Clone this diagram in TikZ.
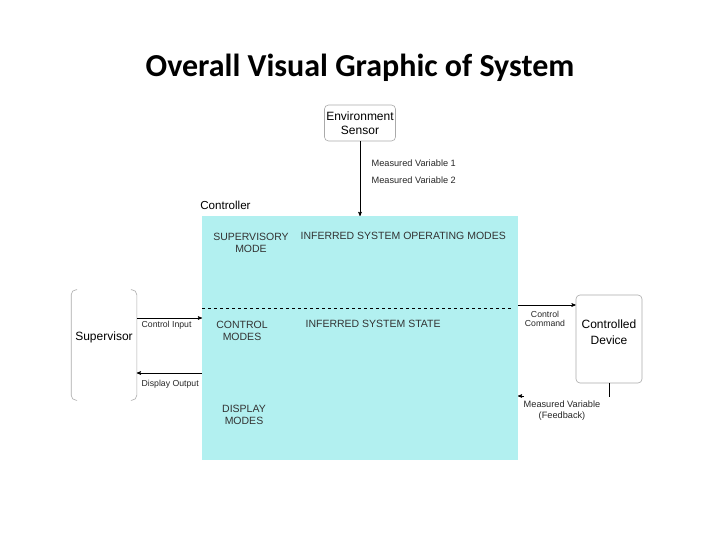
\documentclass[tikz,border=0pt]{standalone}
\usepackage{fontspec}
\setmainfont{Liberation Sans}
\newfontfamily\titlefont{Carlito}
\usetikzlibrary{arrows,positioning}

\definecolor{ctrlcyan}{RGB}{178,240,240}
\definecolor{boxgray}{RGB}{170,170,170}

\begin{document}
\begin{tikzpicture}[x=1pt,y=-1pt,->,>=stealth',semithick,
    box/.style={draw=boxgray,rounded corners=4pt,align=center,fill=white,
                font=\fontsize{12}{14}\selectfont,-},
    boxtext/.style={align=center,font=\fontsize{12}{16}\selectfont},
    modetext/.style={align=center,text=black!80,font=\fontsize{10.5}{12.5}\selectfont},
    lbl/.style={font=\fontsize{8.7}{10}\selectfont,align=center,text=black!85}]

  \useasboundingbox (0,0) rectangle (720,540);

  \node[font=\titlefont\bfseries\fontsize{32}{36}\selectfont] (title) at (360,68)
    {Overall Visual Graphic of System};

  % controller block
  \fill[ctrlcyan] (202,216) rectangle (518,460);
  \coordinate (ctop) at (360,216);
  \coordinate (cleftin) at (202,318);
  \coordinate (cleftout) at (202,373);
  \coordinate (crightout) at (518,305);
  \coordinate (crightin) at (518,396);
  \node[anchor=south west,font=\fontsize{11.6}{13}\selectfont,inner sep=0pt] (ctrl)
    at (200,210) {Controller};
  \draw[-,dashed,thin] (202,308) -- (512,308);

  \node[modetext] (supmode) at (251,243) {SUPERVISORY\\MODE};
  \node[modetext,anchor=west] (opmodes) at (297,236) {INFERRED SYSTEM OPERATING MODES};
  \node[modetext] (ctlmodes) at (242,331) {CONTROL\\MODES};
  \node[modetext,anchor=west] (sysstate) at (302,324) {INFERRED SYSTEM STATE};
  \node[modetext] (dispmodes) at (244,415) {DISPLAY\\MODES};

  % outer blocks
  \node[box,minimum width=71,minimum height=36,inner sep=1pt] (env) at (360,123)
    {Environment\\Sensor};
  \node[box,minimum width=66,minimum height=88] (dev) at (609,339) {};
  \node[boxtext] (devtext) at ([yshift=7pt]dev.center) {Controlled\\Device};
  \node[minimum width=65,minimum height=110] (sup) at (104,345) {};
  \node[boxtext] (suptext) at ([yshift=8pt]sup.center) {Supervisor};
  \draw[-,boxgray,rounded corners=5pt] (sup.north west) ++(6,0) -| (sup.south west) -- ++(6,0);
  \draw[-,boxgray,rounded corners=5pt] (sup.north east) ++(-6,0) -| (sup.south east) -- ++(-6,0);

  % connectors
  \draw (env) -- (ctop);
  \node[lbl,anchor=west,font=\fontsize{9.2}{10}\selectfont] (mv1) at (368,163) {Measured Variable 1};
  \node[lbl,anchor=west,font=\fontsize{9.2}{10}\selectfont] (mv2) at (368,180) {Measured Variable 2};

  \draw (sup.east |- cleftin) -- (cleftin);
  \node[lbl,anchor=west] (cin) at (138,325) {Control Input};
  \draw (cleftout) -- (sup.east |- cleftout);
  \node[lbl,anchor=west] (dout) at (138,384) {Display Output};

  \draw (crightout) -- (dev.west |- crightout);
  \node[lbl,font=\fontsize{8.7}{9}\selectfont] (ccmd) at (545,319) {Control\\Command};

  \draw[-] (dev.south) -- ++(0,14);
  \draw ([xshift=6pt]crightin) -- (crightin);
  \node[lbl,font=\fontsize{9.2}{11}\selectfont] (fb) at (562,411) {Measured Variable\\(Feedback)};
\end{tikzpicture}
\end{document}
